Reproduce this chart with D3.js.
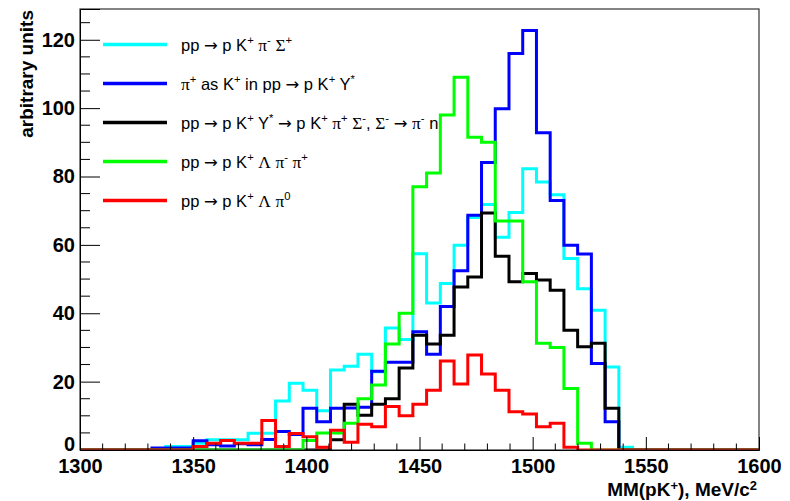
<!DOCTYPE html>
<html>
<head>
<meta charset="utf-8">
<script src="https://cdn.jsdelivr.net/npm/d3@7"></script>
<style>
  html, body { margin: 0; padding: 0; background: #fff; }
  svg { display: block; }
  text { white-space: pre; }
</style>
</head>
<body>
<script>
// ---------------- data ----------------
const xRange = [1300, 1600];
const yRange = [0, 129];
const binLow = 1325.73;          // lower edge of first listed bin (MeV/c^2)
const binWidth = 6.067;          // bin width (MeV/c^2)

// histogram contents, one value per bin starting at binLow
const cyanVals  = [0, 0, 1, 1, 2, 3, 3, 3, 4.9, 4.9, 14.3, 19.5, 17.5, 11.5, 23.4, 24.5, 28, 22.9, 35.7, 32.3, 57.4, 43, 48.7, 59.9, 68, 71.8, 62.2, 69.5, 82.3, 78.4, 74.7, 56, 47.2, 40.9, 24.3, 0.8, 0];
const blueVals  = [0, 0.6, 0.6, 0.6, 2.7, 1.5, 1.2, 1.8, 1.5, 3.1, 5.4, 4.5, 12.2, 8.3, 12.2, 12.3, 12.5, 23, 25.7, 25.7, 34.6, 28, 42, 52.4, 68.7, 84.1, 99.8, 116, 122.7, 92.8, 73, 59.9, 57.3, 25.3, 8.3, 0, 0];
const blackVals = [0, 0, 0, 0, 0, 0, 0, 0, 0, 0, 0, 0, 0, 0, 3, 13.4, 10.2, 13.4, 15, 24, 33.6, 31, 33.6, 47.7, 50.6, 69.3, 56.7, 49.2, 51.6, 49.7, 46.7, 35, 30.2, 31.2, 12.2, 0, 0];
const greenVals = [0, 0, 0, 0, 0, 0, 0, 0, 0, 0, 0, 0, 2.8, 5, 5, 7.8, 15, 19, 31, 40, 77, 81, 98, 109, 91.5, 90, 67, 67, 49.2, 31.2, 30, 18, 2, 0, 0, 0, 0];
const redVals   = [0, 0, 0, 0, 1, 2, 2.8, 2, 2, 8.6, 1, 4.8, 3.9, 0.8, 5.8, 2.3, 7.5, 6.8, 12.7, 10, 13.4, 17.5, 26, 19.3, 27.8, 22.2, 17.5, 11.2, 10.5, 6.8, 7.8, 0.8, 0, 0, 0, 0, 0];

const seriesNames = [
  "pp → p K^{+} π^{-} Σ^{+}",
  "π^{+} as K^{+} in pp → p K^{+} Y^{*}",
  "pp → p K^{+} Y^{*} → p K^{+} π^{+} Σ^{-}, Σ^{-} → π^{-} n",
  "pp → p K^{+} Λ π^{-} π^{+}",
  "pp → p K^{+} Λ π^{0}"
];
const seriesColors = ["#00ffff", "#0000ff", "#000000", "#00ff00", "#ff0000"];
const seriesValues = [cyanVals, blueVals, blackVals, greenVals, redVals];

const xTicks = [1300, 1350, 1400, 1450, 1500, 1550, 1600];
const yTicks = [0, 20, 40, 60, 80, 100, 120];
const xTitle = "MM(pK^{+}), MeV/c^{2}";
const yTitle = "arbitrary units";

// ---------------- layout ----------------
const W = 790, H = 501;
const frame = { left: 80, right: 759, top: 9, bottom: 450 };

const x = d3.scaleLinear().domain(xRange).range([frame.left, frame.right]);
const y = d3.scaleLinear().domain(yRange).range([frame.bottom, frame.top]);

const svg = d3.select("body").append("svg").attr("width", W).attr("height", H);
svg.append("rect").attr("width", W).attr("height", H).attr("fill", "#fff");

svg.append("defs").append("clipPath").attr("id", "clip")
  .append("rect")
  .attr("x", frame.left).attr("y", frame.top - 5)
  .attr("width", frame.right - frame.left).attr("height", frame.bottom - frame.top + 5);

const SANS = "'Liberation Sans', Arial, Helvetica, sans-serif";
const SERIF = "'Liberation Serif', 'DejaVu Serif', 'Times New Roman', serif";
const ARROW = "'DejaVu Sans', sans-serif";

function richText(sel, str, size, supShift = 0.42) {
  const re = /\^\{([^}]*)\}|([^^]+)/g;
  let m, pending = 0;
  while ((m = re.exec(str)) !== null) {
    if (m[1] !== undefined) {
      const sh = -supShift * size;
      const isGreek = /[\u0370-\u03FF]/.test(m[1]);
      sel.append("tspan")
        .attr("dy", pending + sh)
        .attr("font-size", 0.68 * size)
        .attr("font-family", isGreek ? SERIF : SANS)
        .text(m[1]);
      pending = -sh;
    } else {
      const parts = m[2].split(/([\u0370-\u03FF\u2190-\u21FF])/);
      for (const p of parts) {
        if (!p) continue;
        const greek = /[\u0370-\u03FF]/.test(p);
        const arrow = /[\u2190-\u21FF]/.test(p);
        sel.append("tspan")
          .attr("dy", pending)
          .attr("font-size", greek ? size * 1.05 : size)
          .attr("font-family", arrow ? ARROW : (greek ? SERIF : SANS))
          .text(p);
        pending = 0;
      }
    }
  }
}

// ---------------- histograms ----------------
function histPath(vals) {
  const p = d3.path();
  p.moveTo(x(xRange[0]), y(0));
  let prev = 0;
  vals.forEach((v, i) => {
    const lo = binLow + i * binWidth;
    const hi = lo + binWidth;
    p.lineTo(x(lo), y(prev));
    p.lineTo(x(lo), y(v));
    p.lineTo(x(hi), y(v));
    prev = v;
  });
  const end = binLow + vals.length * binWidth;
  p.lineTo(x(end), y(0));
  p.lineTo(x(xRange[1]), y(0));
  return p.toString();
}

const gH = svg.append("g").attr("clip-path", "url(#clip)");
seriesValues.forEach((vals, i) => {
  gH.append("path")
    .attr("d", histPath(vals))
    .attr("fill", "none")
    .attr("stroke", seriesColors[i])
    .attr("stroke-width", 3)
    .attr("stroke-linejoin", "miter");
});

// ---------------- frame & axes ----------------
svg.append("rect")
  .attr("x", frame.left).attr("y", frame.top)
  .attr("width", frame.right - frame.left).attr("height", frame.bottom - frame.top)
  .attr("fill", "none").attr("stroke", "#333").attr("stroke-width", 1.2);

// y axis: ticks drawn inside frame
const yAxis = d3.axisLeft(y).tickValues(yTicks).tickSize(-20).tickPadding(5).tickFormat(d3.format("d"));
const gy = svg.append("g").attr("transform", `translate(${frame.left},0)`).call(yAxis);
gy.select(".domain").attr("stroke", "#000");
gy.selectAll(".tick line").attr("stroke", "#000");
gy.selectAll(".tick text").attr("font-family", SANS).attr("font-weight", "bold").attr("font-size", 20).attr("fill", "#000")
  .attr("y", d => d === 0 ? -6.2 : 0);
const yMinor = d3.range(0, 126, 5).filter(v => v % 20 !== 0);
svg.append("g").selectAll("line").data(yMinor).join("line")
  .attr("x1", frame.left).attr("x2", frame.left + 10)
  .attr("y1", d => y(d)).attr("y2", d => y(d))
  .attr("stroke", "#000");

// x axis
const xAxis = d3.axisBottom(x).tickValues(xTicks).tickSize(-13).tickPadding(8).tickFormat(d3.format("d"));
const gx = svg.append("g").attr("transform", `translate(0,${frame.bottom})`).call(xAxis);
gx.select(".domain").attr("stroke", "#000");
gx.selectAll(".tick line").attr("stroke", "#000");
gx.selectAll(".tick text").attr("font-family", SANS).attr("font-weight", "bold").attr("font-size", 20).attr("fill", "#000")
  .attr("y", 0).attr("dy", 22.8);
const xMinor = d3.range(1310, 1600, 10).filter(v => v % 50 !== 0);
svg.append("g").selectAll("line").data(xMinor).join("line")
  .attr("x1", d => x(d)).attr("x2", d => x(d))
  .attr("y1", frame.bottom).attr("y2", frame.bottom - 6.5)
  .attr("stroke", "#000");

// axis titles
const xt = svg.append("text")
  .attr("x", 757).attr("y", 496)
  .attr("text-anchor", "end")
  .attr("font-family", SANS).attr("font-weight", "bold").attr("fill", "#000");
richText(xt, xTitle, 19, 0.34);

svg.append("text")
  .attr("transform", "translate(33,10) rotate(-90)")
  .attr("text-anchor", "end")
  .attr("font-family", SANS).attr("font-weight", "bold").attr("font-size", 19).attr("fill", "#000")
  .text(yTitle);

// ---------------- legend ----------------
const legY0 = 44.5, legDy = 39;
const leg = svg.append("g");
seriesNames.forEach((name, i) => {
  const yy = legY0 + i * legDy;
  leg.append("line")
    .attr("x1", 103).attr("x2", 167)
    .attr("y1", yy).attr("y2", yy)
    .attr("stroke", seriesColors[i]).attr("stroke-width", 3.5);
  const t = leg.append("text")
    .attr("x", 181).attr("y", yy + 6)
    .attr("font-family", SANS).attr("fill", "#000");
  richText(t, name, 16.5);
});
</script>
</body>
</html>
